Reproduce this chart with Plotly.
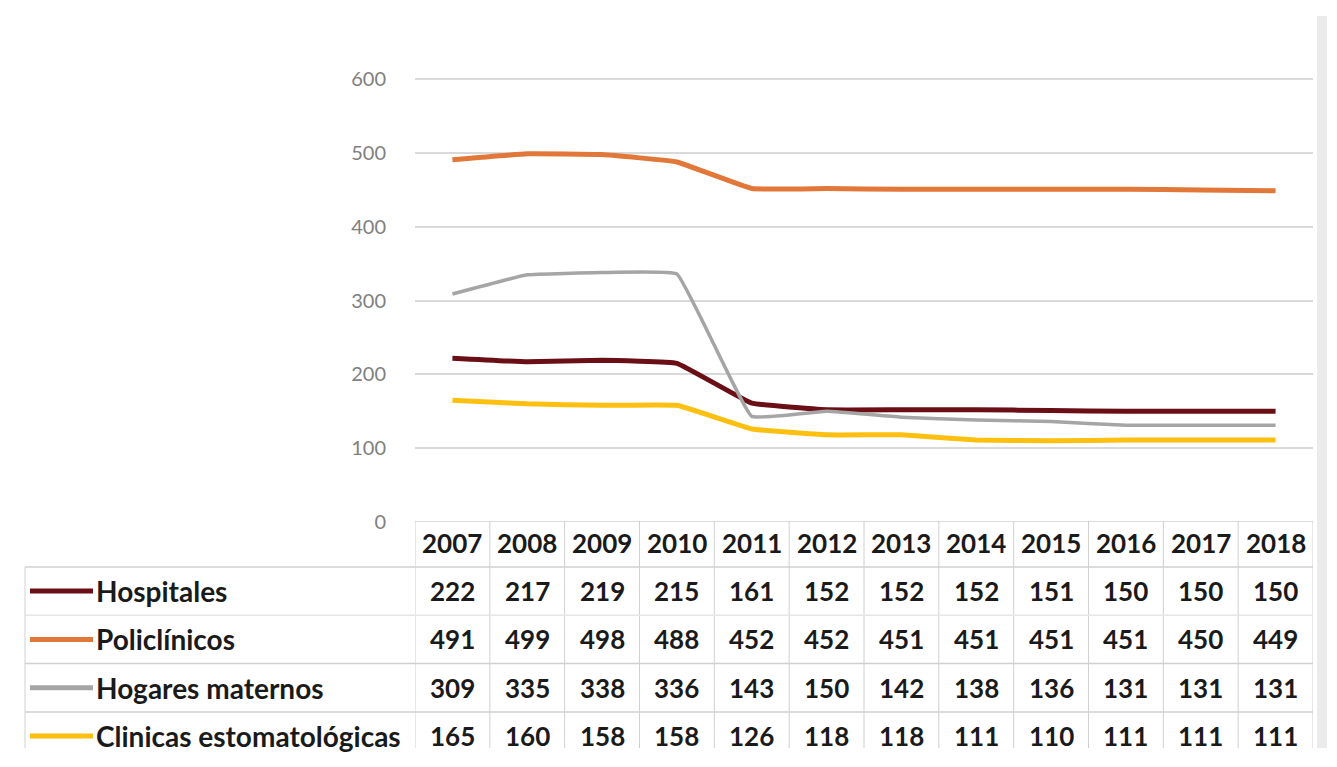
import plotly.graph_objects as go

years = ["2007", "2008", "2009", "2010", "2011", "2012", "2013", "2014", "2015", "2016", "2017", "2018"]
series_names = ["Hospitales", "Policlínicos", "Hogares maternos", "Clinicas estomatológicas"]
hospitales = [222, 217, 219, 215, 161, 152, 152, 152, 151, 150, 150, 150]
policlinicos = [491, 499, 498, 488, 452, 452, 451, 451, 451, 451, 450, 449]
hogares = [309, 335, 338, 336, 143, 150, 142, 138, 136, 131, 131, 131]
clinicas = [165, 160, 158, 158, 126, 118, 118, 111, 110, 111, 111, 111]
y_ticks = [0, 100, 200, 300, 400, 500, 600]

series_values = [hospitales, policlinicos, hogares, clinicas]
colors = ["#6b0f17", "#e2773a", "#a5a5a5", "#fdc010"]
widths = [5, 5, 3.5, 5]

OFF = 8  # page body margin
W, H = 1337 - 2 * OFF, 767 - 2 * OFF
def px_x(p):
    return (p - OFF) / W
def px_y(p):
    return 1 - (p - OFF) / H

fig = go.Figure()
for name, vals, col, lw in zip(series_names, series_values, colors, widths):
    fig.add_trace(go.Scatter(x=list(range(len(years))), y=vals, name=name, mode="lines",
                             line=dict(color=col, width=lw, shape="spline", smoothing=0.25),
                             showlegend=False, hoverinfo="y+name"))

fig.add_trace(go.Scatter(x=[0], y=[0], xaxis="x", yaxis="y2", mode="markers",
                         marker=dict(opacity=0), showlegend=False, hoverinfo="skip"))

plot_left, plot_right = px_x(415), px_x(1313)
y_top_val = 606
ppu = (527 - 73) / 600.0
y_top_px = 527 - y_top_val * ppu

pitch = 49.6
t_top = (526 - 598) / pitch
t_bot = (759 - 598) / pitch

fig.update_layout(
    width=W, height=H,
    margin=dict(l=0, r=0, t=0, b=0),
    paper_bgcolor="white", plot_bgcolor="white",
    xaxis=dict(domain=[plot_left, plot_right], range=[-0.5, 11.5],
               showticklabels=False, showgrid=False, zeroline=False, showline=False,
               anchor="y"),
    yaxis=dict(domain=[px_y(527), px_y(y_top_px)], range=[0, y_top_val], tickvals=y_ticks,
               showgrid=True, gridcolor="#d9d9d9", gridwidth=1.5, zeroline=False,
               ticks="outside", ticklen=24, tickcolor="rgba(0,0,0,0)",
               tickfont=dict(family="Lato", size=20, color="#808080"), showline=False),
    yaxis2=dict(domain=[0, px_y(526)], range=[t_bot, t_top], visible=False,
                anchor="x", showgrid=False, zeroline=False),
    font=dict(family="Lato"),
)

shapes = []
line_col = "#d0d0d0"
for i in range(len(years) + 1):
    shapes.append(dict(type="line", xref="x", yref="y2", x0=i - 0.5, x1=i - 0.5,
                       y0=t_top, y1=t_bot, line=dict(color=line_col, width=1)))
shapes.append(dict(type="line", xref="x", yref="y2", x0=-0.5, x1=11.5, y0=t_top, y1=t_top,
                   line=dict(color=line_col, width=1.5)))
for r in range(len(series_names)):
    c = "#e6e6e6" if r == 1 else line_col
    shapes.append(dict(type="line", xref="paper", yref="y2", x0=px_x(25), x1=plot_right,
                       y0=r - 0.5, y1=r - 0.5, line=dict(color=c, width=1.5)))
shapes.append(dict(type="line", xref="paper", yref="y2", x0=px_x(25), x1=px_x(25),
                   y0=-0.5, y1=t_bot, line=dict(color=line_col, width=1)))
for r, col in enumerate(colors):
    shapes.append(dict(type="line", xref="paper", yref="y2", x0=px_x(30), x1=px_x(93),
                       y0=r, y1=r, line=dict(color=col, width=5)))
shapes.append(dict(type="rect", xref="paper", yref="paper", x0=px_x(1317), x1=px_x(1327),
                   y0=0, y1=px_y(8), fillcolor="#ebebeb", line=dict(width=0), layer="below"))

annotations = []
nfont = dict(family="Lato", size=26, color="#1a1a1a")
lfont = dict(family="Lato", size=28, color="#1a1a1a")
hdr_y = (549 - 598) / pitch
for i, yr in enumerate(years):
    annotations.append(dict(x=i, y=hdr_y, xref="x", yref="y2", text="<b>%s</b>" % yr,
                            showarrow=False, font=nfont))
for r, (name, vals) in enumerate(zip(series_names, series_values)):
    annotations.append(dict(x=px_x(94), y=r, xref="paper", yref="y2", xanchor="left",
                            text="<b>%s</b>" % name, showarrow=False, font=lfont))
    for i, v in enumerate(vals):
        annotations.append(dict(x=i, y=r, xref="x", yref="y2", text="<b>%d</b>" % v,
                                showarrow=False, font=nfont))

fig.update_layout(shapes=shapes, annotations=annotations)
fig.write_html("out.html")
